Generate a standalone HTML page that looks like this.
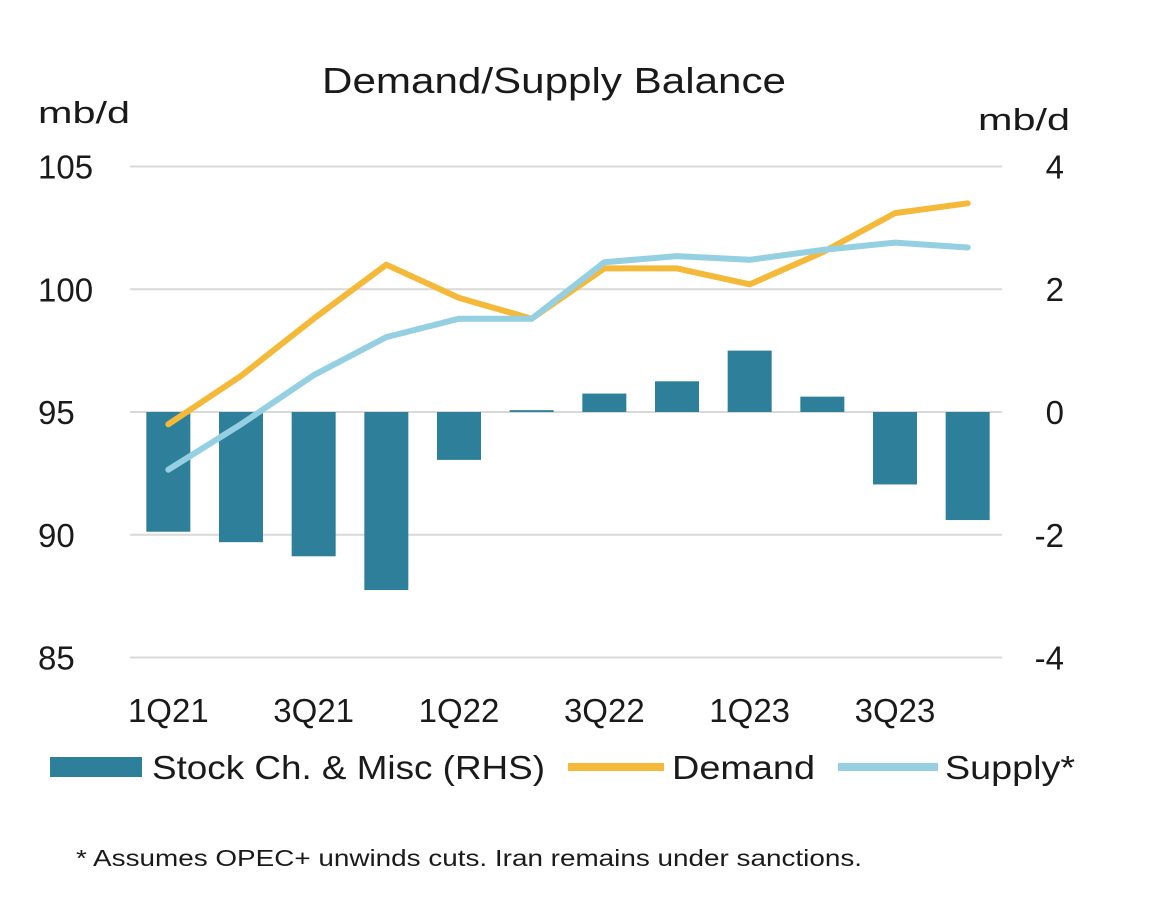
<!DOCTYPE html>
<html><head><meta charset="utf-8"><style>
body{margin:0;background:#fff;}
svg text{font-family:"Liberation Sans",sans-serif;fill:#1a1a1a;}
</style></head><body>
<svg id="chart" width="1170" height="899" viewBox="0 0 1170 899">
<text x="322" y="93" font-size="36" textLength="464" lengthAdjust="spacingAndGlyphs">Demand/Supply Balance</text>
<text x="38" y="123" font-size="31" textLength="92" lengthAdjust="spacingAndGlyphs">mb/d</text>
<text x="978" y="130" font-size="31" textLength="92" lengthAdjust="spacingAndGlyphs">mb/d</text>
<g id="grid"></g><g id="bars"></g><g id="lines"></g><g id="ticks"></g>
<g>
<rect x="50" y="757" width="92" height="20" fill="#2e7f99"/>
<text x="152" y="779" font-size="33" textLength="393" lengthAdjust="spacingAndGlyphs">Stock Ch. &amp; Misc (RHS)</text>
<line x1="568" y1="767" x2="664" y2="767" stroke="#f5b93a" stroke-width="8"/>
<text x="672" y="779" font-size="33" textLength="143" lengthAdjust="spacingAndGlyphs">Demand</text>
<line x1="838" y1="767" x2="938" y2="767" stroke="#94cfe2" stroke-width="8"/>
<text x="945" y="779" font-size="33" textLength="130" lengthAdjust="spacingAndGlyphs">Supply*</text>
</g>
<text x="76" y="866" font-size="23" textLength="786" lengthAdjust="spacingAndGlyphs">* Assumes OPEC+ unwinds cuts. Iran remains under sanctions.</text>
</svg>
<script>
const categories=["1Q21","2Q21","3Q21","4Q21","1Q22","2Q22","3Q22","4Q22","1Q23","2Q23","3Q23","4Q23"];
const stockChange=[-1.95,-2.12,-2.35,-2.9,-0.78,0.03,0.3,0.5,1.0,0.25,-1.18,-1.76];
const demand=[94.5,96.47,98.8,101.0,99.65,98.8,100.85,100.85,100.2,101.5,103.1,103.5];
const supply=[92.65,94.5,96.5,98.05,98.8,98.8,101.1,101.35,101.2,101.6,101.9,101.7];
const leftTicks=[85,90,95,100,105];
const rightTicks=[-4,-2,0,2,4];
const xTickLabels=["1Q21","3Q21","1Q22","3Q22","1Q23","3Q23"];
const NS="http://www.w3.org/2000/svg";
const x0=132,x1=1004,step=(x1-x0)/categories.length;
const xc=i=>x0+step*(i+0.5);
const yL=v=>412-(v-95)*24.55;
const yR=v=>412-v*61.4;
function mk(t,a,p){const e=document.createElementNS(NS,t);for(const k in a)e.setAttribute(k,a[k]);p.appendChild(e);return e;}
const grid=document.getElementById('grid'),bars=document.getElementById('bars'),lines=document.getElementById('lines'),ticks=document.getElementById('ticks');
leftTicks.forEach((v,i)=>{
 const g=mk('line',{x1:130,x2:1002,y1:yL(v),y2:yL(v),stroke:'#d9d9d9','stroke-width':2},grid);
 
 
 const t=mk('text',{x:38,y:yL(v)+12,'font-size':33},ticks);t.textContent=v;
 
 
 const r=rightTicks[i];
 const t2=mk('text',{x:1064,y:yR(r)+12,'font-size':33,'text-anchor':'end'},ticks);t2.textContent=r;
 
 
});
stockChange.forEach((v,i)=>{
 const y=Math.min(yR(v),yR(0)),h=Math.max(Math.abs(yR(v)-yR(0)),1.5);
 const b=mk('rect',{x:xc(i)-22,y:y,width:44,height:h,fill:'#2e7f99'},bars);
 
 
});
function line(d,col,name){
 const p=mk('polyline',{points:d.map((v,i)=>xc(i)+','+yL(v)).join(' '),fill:'none',stroke:col,'stroke-width':6,'stroke-linejoin':'round','stroke-linecap':'round'},lines);
 
 
}
line(demand,'#f5b93a','demand-line');
line(supply,'#94cfe2','supply-line');
categories.forEach((c,i)=>{
 if(xTickLabels.indexOf(c)<0)return;
 const t=mk('text',{x:xc(i),y:722,'font-size':33,'text-anchor':'middle'},ticks);t.textContent=c;
 
 
});
</script>
</body></html>
